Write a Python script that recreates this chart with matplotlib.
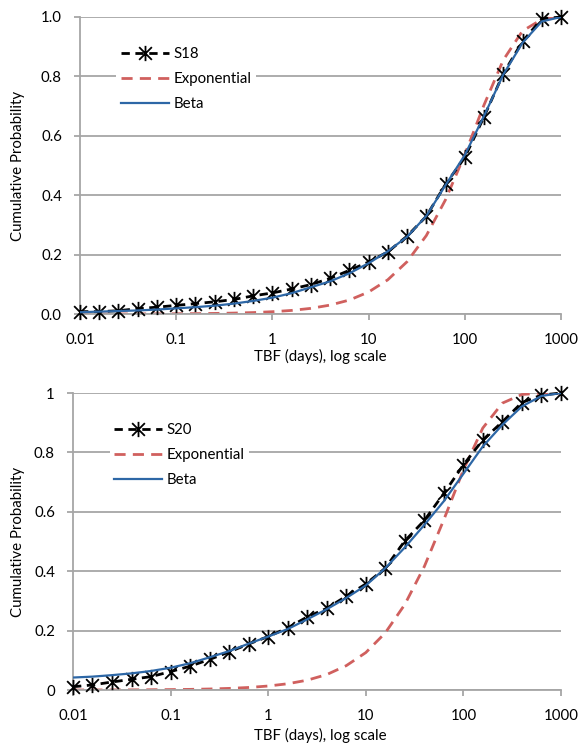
import matplotlib
matplotlib.use("Agg")
import matplotlib.pyplot as plt
from matplotlib.path import Path
from matplotlib.ticker import FixedLocator, FixedFormatter, NullLocator

plt.rcParams['font.family'] = ['Lato', 'DejaVu Sans']

# ---- data ----
tbf_days = [0.01, 0.0158, 0.0251, 0.0398, 0.0631, 0.1, 0.158, 0.251, 0.398, 0.631,
            1, 1.58, 2.51, 3.98, 6.31, 10, 15.8, 25.1, 39.8, 63.1,
            100, 158, 251, 398, 631, 1000]

s18_obs = [0.008, 0.008, 0.011, 0.018, 0.023, 0.029, 0.035, 0.041, 0.049, 0.061,
           0.071, 0.084, 0.099, 0.120, 0.147, 0.175, 0.209, 0.262, 0.329, 0.437,
           0.527, 0.663, 0.809, 0.918, 0.994, 1.0]
s18_exp = [0.0001, 0.0001, 0.0002, 0.0003, 0.0005, 0.0008, 0.0012, 0.0019, 0.0031, 0.0048,
           0.0077, 0.012, 0.019, 0.030, 0.047, 0.074, 0.115, 0.176, 0.264, 0.385,
           0.537, 0.703, 0.855, 0.953, 0.992, 1.0]
s18_beta = [0.006, 0.008, 0.010, 0.012, 0.015, 0.019, 0.023, 0.028, 0.035, 0.044,
            0.055, 0.070, 0.090, 0.110, 0.137, 0.171, 0.211, 0.260, 0.330, 0.434,
            0.535, 0.666, 0.806, 0.913, 0.985, 1.0]

s20_obs = [0.011, 0.017, 0.027, 0.036, 0.045, 0.062, 0.080, 0.103, 0.128, 0.155,
           0.180, 0.209, 0.246, 0.275, 0.316, 0.357, 0.410, 0.502, 0.571, 0.662,
           0.758, 0.842, 0.903, 0.968, 0.993, 1.0]
s20_exp = [0.0001, 0.0002, 0.0003, 0.0005, 0.0009, 0.0014, 0.0021, 0.0034, 0.0054, 0.0085,
           0.0134, 0.021, 0.033, 0.052, 0.082, 0.126, 0.192, 0.288, 0.416, 0.574,
           0.741, 0.882, 0.966, 0.995, 0.9998, 1.0]
s20_beta = [0.042, 0.045, 0.050, 0.056, 0.064, 0.075, 0.090, 0.110, 0.131, 0.156,
            0.180, 0.205, 0.238, 0.272, 0.310, 0.352, 0.410, 0.480, 0.556, 0.636,
            0.728, 0.820, 0.893, 0.955, 0.990, 1.0]

x_ticks = [0.01, 0.1, 1, 10, 100, 1000]
x_tick_labels = ['0.01', '0.1', '1', '10', '100', '1000']
y_ticks = [0.0, 0.2, 0.4, 0.6, 0.8, 1.0]
y_labels_top = ['0.0', '0.2', '0.4', '0.6', '0.8', '1.0']
y_labels_bottom = ['0', '0.2', '0.4', '0.6', '0.8', '1']

# ---- styling ----
W, H = 585, 743
GRID = '#a6a6a6'
RED = '#d0605e'
BLUE = '#2d67a6'
FS = 10.8

star = Path([(-1, -1), (1, 1), (-1, 1), (1, -1), (0, -1.2), (0, 1.2)],
            [Path.MOVETO, Path.LINETO, Path.MOVETO, Path.LINETO, Path.MOVETO, Path.LINETO])

fig = plt.figure(figsize=(W / 100, H / 100), dpi=100)


def panel(rect, obs, expv, beta, name, ylabels, xlabel_y, ylabel_x):
    ax = fig.add_axes(rect)
    ax.plot(tbf_days, obs, color='black', lw=2.0, linestyle=(0, (3, 2)),
            marker=star, markersize=11, markeredgewidth=1.3, markerfacecolor='none',
            markeredgecolor='black', clip_on=False, label=name, zorder=3)
    ax.plot(tbf_days, expv, color=RED, lw=2.0, linestyle=(0, (4, 2.6)),
            label='Exponential', zorder=2)
    ax.plot(tbf_days, beta, color=BLUE, lw=1.6, label='Beta', zorder=4)
    ax.set_xscale('log')
    ax.set_xlim(0.01, 1000)
    ax.set_ylim(0, 1)
    ax.xaxis.set_major_locator(FixedLocator(x_ticks))
    ax.xaxis.set_major_formatter(FixedFormatter(x_tick_labels))
    ax.xaxis.set_minor_locator(NullLocator())
    ax.yaxis.set_major_locator(FixedLocator(y_ticks))
    ax.yaxis.set_major_formatter(FixedFormatter(ylabels))
    ax.grid(axis='y', color=GRID, lw=1.3)
    ax.set_axisbelow(True)
    for s in ['top', 'right']:
        ax.spines[s].set_visible(False)
    for s in ['left', 'bottom']:
        ax.spines[s].set_color(GRID)
        ax.spines[s].set_linewidth(1.3)
    ax.tick_params(axis='x', direction='out', length=4, width=1.3, color=GRID,
                   pad=10, labelsize=FS, labelcolor='black')
    ax.tick_params(axis='y', direction='out', length=4, width=1.3, color=GRID,
                   pad=9, labelsize=FS, labelcolor='black')
    ax.legend(loc='upper left', bbox_to_anchor=(0.06, 0.94), frameon=True,
              facecolor='white', edgecolor='none', framealpha=1, fancybox=False,
              fontsize=FS, handlelength=3.2, handletextpad=0.3,
              labelspacing=0.75, borderpad=0.3, numpoints=1)
    bb = ax.get_position()
    fig.text(320 / W, xlabel_y, 'TBF (days), log scale',
             ha='center', va='center', fontsize=FS)
    fig.text(ylabel_x, (bb.y0 + bb.y1) / 2, 'Cumulative Probability',
             ha='center', va='center', rotation=90, fontsize=FS)
    return ax


panel([80 / W, 1 - 314 / H, 481 / W, 297 / H], s18_obs, s18_exp, s18_beta, 'S18',
      y_labels_top, 1 - 356 / H, 18 / W)
panel([73 / W, 1 - 690 / H, 488 / W, 297 / H], s20_obs, s20_exp, s20_beta, 'S20',
      y_labels_bottom, 1 - 735 / H, 18 / W)

fig.savefig('out.png', dpi=100, facecolor='white')
